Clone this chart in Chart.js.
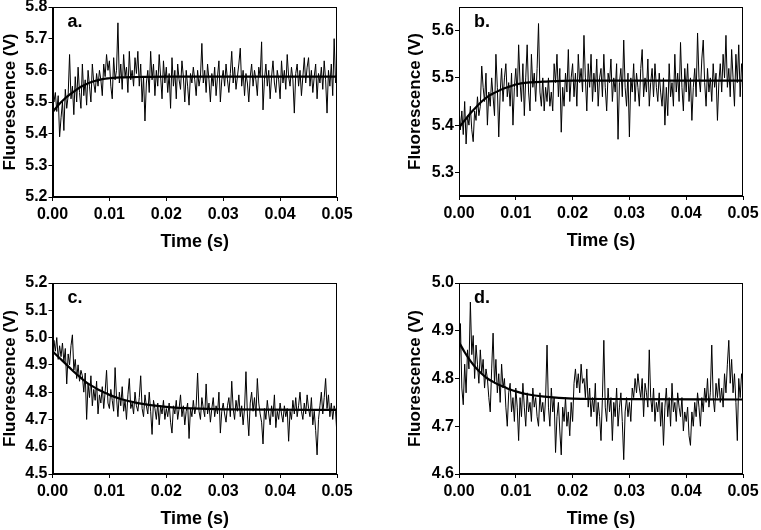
<!DOCTYPE html>
<html><head><meta charset="utf-8">
<script src="https://cdn.jsdelivr.net/npm/chart.js@4.4.0/dist/chart.umd.min.js"></script>
<style>
html,body{margin:0;padding:0;background:#fff;}
#wrap{position:relative;width:761px;height:530px;overflow:hidden;background:#fff;}
canvas{position:absolute;}
</style></head><body><div id="wrap">
<canvas id="ca" width="380" height="265" style="left:0;top:0"></canvas>
<canvas id="cb" width="381" height="265" style="left:380px;top:0"></canvas>
<canvas id="cc" width="380" height="265" style="left:0;top:265px"></canvas>
<canvas id="cd" width="381" height="265" style="left:380px;top:265px"></canvas>
</div>
<script>
// ---- data ----
const sampleStep = 0.00025; // s between recorded samples
const xTicks = [0, 0.01, 0.02, 0.03, 0.04, 0.05];
const yTicksA = [5.2, 5.3, 5.4, 5.5, 5.6, 5.7, 5.8];
const yTicksB = [5.3, 5.4, 5.5, 5.6];
const yTicksC = [4.5, 4.6, 4.7, 4.8, 4.9, 5.0, 5.1, 5.2];
const yTicksD = [4.6, 4.7, 4.8, 4.9, 5.0];
const panelLabels = ['a.', 'b.', 'c.', 'd.'];

const traceA = [
5.55,5.50,5.53,5.47,5.52,5.39,5.45,5.50,5.41,5.54,5.48,5.52,5.65,5.51,5.55,5.46,5.58,5.50,5.61,5.53,
5.48,5.62,5.52,5.57,5.49,5.60,5.55,5.50,5.62,5.56,5.53,5.59,5.55,5.60,5.57,5.52,5.62,5.58,5.65,5.60,
5.63,5.55,5.51,5.64,5.57,5.60,5.75,5.56,5.62,5.54,5.65,5.58,5.61,5.53,5.66,5.57,5.60,5.55,5.64,5.59,
5.66,5.55,5.62,5.50,5.58,5.44,5.56,5.60,5.53,5.66,5.57,5.62,5.52,5.60,5.55,5.65,5.58,5.51,5.63,5.56,
5.61,5.53,5.59,5.48,5.64,5.55,5.60,5.51,5.62,5.57,5.54,5.63,5.58,5.50,5.60,5.55,5.49,5.59,5.56,5.61,
5.57,5.52,5.60,5.55,5.58,5.685,5.56,5.60,5.53,5.62,5.57,5.50,5.59,5.55,5.61,5.52,5.58,5.63,5.50,5.57,
5.60,5.55,5.62,5.57,5.53,5.59,5.66,5.56,5.61,5.54,5.58,5.62,5.67,5.55,5.60,5.52,5.59,5.56,5.50,5.58,
5.62,5.55,5.60,5.57,5.52,5.61,5.58,5.69,5.475,5.57,5.62,5.55,5.60,5.51,5.58,5.63,5.56,5.53,5.60,5.57,
5.51,5.63,5.56,5.60,5.54,5.65,5.58,5.55,5.61,5.57,5.465,5.59,5.62,5.55,5.60,5.52,5.58,5.64,5.56,5.61,
5.64,5.55,5.60,5.53,5.58,5.62,5.51,5.59,5.56,5.61,5.54,5.63,5.57,5.465,5.60,5.55,5.62,5.52,5.70,5.56,5.58];

const traceB = [
5.44,5.39,5.43,5.38,5.45,5.36,5.42,5.40,5.44,5.39,5.365,5.43,5.41,5.46,5.42,5.44,5.525,5.48,5.45,5.51,
5.40,5.47,5.44,5.50,5.46,5.42,5.55,5.48,5.375,5.47,5.52,5.45,5.50,5.53,5.46,5.49,5.44,5.51,5.40,5.48,
5.52,5.46,5.57,5.49,5.45,5.53,5.42,5.50,5.57,5.47,5.43,5.55,5.48,5.51,5.45,5.52,5.615,5.47,5.44,5.50,
5.43,5.48,5.45,5.50,5.44,5.47,5.43,5.53,5.49,5.55,5.46,5.52,5.385,5.48,5.44,5.51,5.47,5.56,5.45,5.50,
5.53,5.46,5.51,5.44,5.55,5.49,5.52,5.47,5.59,5.50,5.43,5.53,5.48,5.55,5.45,5.51,5.47,5.54,5.44,5.50,
5.52,5.46,5.55,5.48,5.43,5.51,5.49,5.54,5.45,5.50,5.47,5.53,5.37,5.49,5.52,5.46,5.58,5.48,5.44,5.51,
5.375,5.50,5.47,5.53,5.45,5.51,5.48,5.44,5.52,5.56,5.46,5.50,5.47,5.54,5.44,5.49,5.52,5.46,5.53,5.48,
5.45,5.51,5.47,5.44,5.50,5.40,5.48,5.42,5.53,5.46,5.49,5.44,5.55,5.47,5.51,5.45,5.575,5.48,5.43,5.52,
5.47,5.53,5.45,5.50,5.41,5.48,5.52,5.46,5.595,5.50,5.47,5.54,5.58,5.49,5.44,5.52,5.47,5.50,5.45,5.53,
5.48,5.51,5.41,5.49,5.53,5.47,5.55,5.50,5.59,5.48,5.52,5.46,5.56,5.50,5.44,5.55,5.49,5.57,5.46,5.53,5.50];

const traceC = [
4.87,4.99,4.95,5.00,4.92,4.97,4.93,4.98,4.91,4.96,4.83,4.94,4.90,4.97,5.01,4.88,4.92,4.85,4.90,4.84,
4.88,4.86,4.80,4.87,4.70,4.83,4.78,4.86,4.75,4.81,4.77,4.84,4.72,4.79,4.76,4.82,4.74,4.80,4.88,4.76,
4.74,4.81,4.77,4.73,4.89,4.78,4.71,4.80,4.75,4.82,4.73,4.77,4.70,4.79,4.85,4.74,4.76,4.72,4.80,4.75,
4.73,4.78,4.86,4.74,4.71,4.79,4.75,4.72,4.80,4.73,4.645,4.77,4.74,4.70,4.76,4.68,4.75,4.72,4.77,4.70,
4.74,4.71,4.76,4.69,4.65,4.75,4.72,4.77,4.70,4.74,4.79,4.71,4.75,4.68,4.73,4.76,4.63,4.74,4.71,4.77,
4.72,4.75,4.87,4.73,4.70,4.78,4.74,4.71,4.83,4.72,4.76,4.69,4.74,4.78,4.71,4.75,4.72,4.80,4.65,4.73,
4.76,4.72,4.69,4.75,4.78,4.71,4.84,4.74,4.70,4.77,4.73,4.79,4.71,4.75,4.68,4.74,4.875,4.72,4.64,4.76,
4.80,4.73,4.78,4.71,4.85,4.76,4.72,4.69,4.61,4.74,4.70,4.77,4.72,4.68,4.75,4.71,4.79,4.67,4.73,4.70,
4.76,4.72,4.69,4.75,4.71,4.74,4.62,4.73,4.70,4.77,4.72,4.78,4.71,4.75,4.80,4.73,4.70,4.76,4.72,4.79,
4.74,4.71,4.78,4.68,4.73,4.66,4.57,4.70,4.75,4.80,4.72,4.78,4.85,4.74,4.79,4.71,4.76,4.70,4.75,4.73,4.64];

const traceD = [
4.80,4.915,4.78,4.745,4.83,4.77,4.86,4.82,4.96,4.85,4.89,4.80,4.87,4.83,4.79,4.86,4.81,4.84,4.78,4.82,
4.80,4.76,4.73,4.82,4.895,4.79,4.84,4.77,4.81,4.75,4.83,4.78,4.80,4.74,4.70,4.77,4.79,4.73,4.76,4.71,
4.78,4.74,4.67,4.76,4.72,4.79,4.74,4.70,4.77,4.73,4.75,4.71,4.78,4.74,4.76,4.72,4.70,4.77,4.73,4.75,
4.71,4.76,4.87,4.74,4.70,4.78,4.73,4.76,4.645,4.72,4.75,4.69,4.64,4.74,4.71,4.76,4.70,4.73,4.68,4.75,
4.71,4.79,4.82,4.78,4.81,4.77,4.83,4.79,4.80,4.76,4.82,4.74,4.78,4.72,4.76,4.73,4.79,4.70,4.75,4.72,
4.67,4.76,4.88,4.74,4.71,4.78,4.73,4.76,4.67,4.75,4.72,4.78,4.70,4.74,4.77,4.71,4.63,4.73,4.76,4.72,
4.75,4.71,4.78,4.76,4.80,4.77,4.81,4.78,4.76,4.80,4.72,4.79,4.77,4.74,4.86,4.76,4.73,4.78,4.71,4.75,
4.73,4.77,4.70,4.75,4.66,4.74,4.78,4.72,4.76,4.70,4.79,4.73,4.75,4.71,4.77,4.74,4.72,4.76,4.69,4.73,
4.71,4.74,4.68,4.66,4.73,4.70,4.75,4.72,4.77,4.74,4.70,4.76,4.73,4.78,4.75,4.80,4.74,4.77,4.87,4.76,
4.73,4.79,4.76,4.80,4.75,4.78,4.74,4.81,4.77,4.83,4.88,4.79,4.84,4.77,4.81,4.75,4.67,4.80,4.76,4.81,4.79];

const fitTimes = [0,0.001,0.002,0.003,0.004,0.005,0.006,0.007,0.008,0.009,0.010,0.012,0.015,0.02,0.03,0.05];
const fitA = [5.468,5.49,5.508,5.523,5.536,5.548,5.557,5.564,5.569,5.573,5.575,5.578,5.579,5.58,5.58,5.58];
const fitB = [5.395,5.41,5.425,5.438,5.45,5.46,5.467,5.473,5.478,5.482,5.486,5.49,5.492,5.494,5.494,5.494];
const fitC = [4.95,4.93,4.91,4.89,4.87,4.852,4.835,4.822,4.81,4.80,4.79,4.775,4.76,4.746,4.737,4.735];
const fitD = [4.876,4.855,4.837,4.822,4.81,4.80,4.793,4.787,4.782,4.777,4.773,4.767,4.762,4.758,4.757,4.756];

// ---- rendering ----
const FONT = "'Liberation Sans', Arial, Helvetica, sans-serif";
Chart.defaults.font.family = FONT;
Chart.defaults.color = '#000';

const framePlugin = {
  id: 'frame',
  afterDraw(chart, args, opts) {
    const {ctx, chartArea: a} = chart;
    ctx.save();
    ctx.strokeStyle = '#000';
    ctx.lineWidth = 1;
    const l = Math.round(a.left) + 0.5, t = Math.round(a.top) + 0.5;
    const r = Math.round(a.right) - 0.5, b = Math.round(a.bottom) - 0.5;
    ctx.strokeRect(l, t, r - l, b - t);
    ctx.font = "bold 18px " + FONT;
    ctx.fillStyle = '#000';
    ctx.textAlign = 'left';
    ctx.textBaseline = 'alphabetic';
    ctx.fillText(opts.label, a.left + 15, a.top + 20);
    ctx.restore();
  }
};

function makePanel(canvasId, label, trace, fit, yMin, yMax, yTicks, box) {
  const pts = trace.map((v, i) => ({x: i * sampleStep, y: v}));
  const fitPts = fitTimes.map((t, i) => ({x: t, y: fit[i]}));
  const yw = box.areaL - box.padL;
  new Chart(document.getElementById(canvasId), {
    type: 'line',
    data: {
      datasets: [
        {data: pts, borderColor: '#000', borderWidth: 1, pointRadius: 0, tension: 0, fill: false},
        {data: fitPts, borderColor: '#000', borderWidth: 2.2, pointRadius: 0, cubicInterpolationMode: 'monotone', fill: false}
      ]
    },
    options: {
      responsive: false, animation: false, devicePixelRatio: 1,
      layout: {padding: {left: box.padL, top: box.areaT, right: box.w - box.areaR, bottom: box.h - box.areaB - 55}},
      plugins: {legend: {display: false}, tooltip: {enabled: false}, frame: {label: label}},
      scales: {
        x: {
          type: 'linear', min: 0, max: 0.05,
          afterBuildTicks: s => { s.ticks = xTicks.map(v => ({value: v})); },
          afterFit: s => { s.height = 55; s.paddingLeft = 0; s.paddingRight = 0; },
          ticks: {font: {size: 16, weight: 'bold'}, color: '#000', padding: 4, maxRotation: 0, autoSkip: false,
                  callback: v => Number(v).toFixed(2)},
          grid: {drawOnChartArea: false, drawTicks: true, tickLength: 4, color: '#000', lineWidth: 1},
          border: {display: true, color: '#000', width: 1},
          title: {display: true, text: 'Time (s)', color: '#000', font: {size: 18, weight: 'bold', lineHeight: 1}, padding: {top: 0, bottom: 1}}
        },
        y: {
          type: 'linear', min: yMin, max: yMax,
          afterBuildTicks: s => { s.ticks = yTicks.map(v => ({value: v})); },
          afterFit: s => { s.width = yw; s.paddingTop = 0; s.paddingBottom = 0; },
          ticks: {font: {size: 16, weight: 'bold'}, color: '#000', padding: 1, autoSkip: false,
                  callback: v => Number(v).toFixed(1)},
          grid: {drawOnChartArea: false, drawTicks: true, tickLength: 4, color: '#000', lineWidth: 1},
          border: {display: true, color: '#000', width: 1},
          title: {display: true, text: 'Fluorescence (V)', color: '#000', font: {size: 17, weight: 'bold', lineHeight: 1}, padding: {top: 0, bottom: 0}}
        }
      }
    },
    plugins: [framePlugin]
  });
}

makePanel('ca', panelLabels[0], traceA, fitA, 5.2, 5.8, yTicksA,
  {w: 380, h: 265, padL: 1.5, areaL: 52.5, areaR: 337, areaT: 7, areaB: 197});
makePanel('cb', panelLabels[1], traceB, fitB, 5.25, 5.65, yTicksB,
  {w: 381, h: 265, padL: 26.5, areaL: 79, areaR: 363, areaT: 7, areaB: 196});
makePanel('cc', panelLabels[2], traceC, fitC, 4.5, 5.2, yTicksC,
  {w: 380, h: 265, padL: 1.5, areaL: 52.5, areaR: 337, areaT: 18, areaB: 209});
makePanel('cd', panelLabels[3], traceD, fitD, 4.6, 5.0, yTicksD,
  {w: 381, h: 265, padL: 26.5, areaL: 79, areaR: 363, areaT: 18, areaB: 209});
</script>
</body></html>
